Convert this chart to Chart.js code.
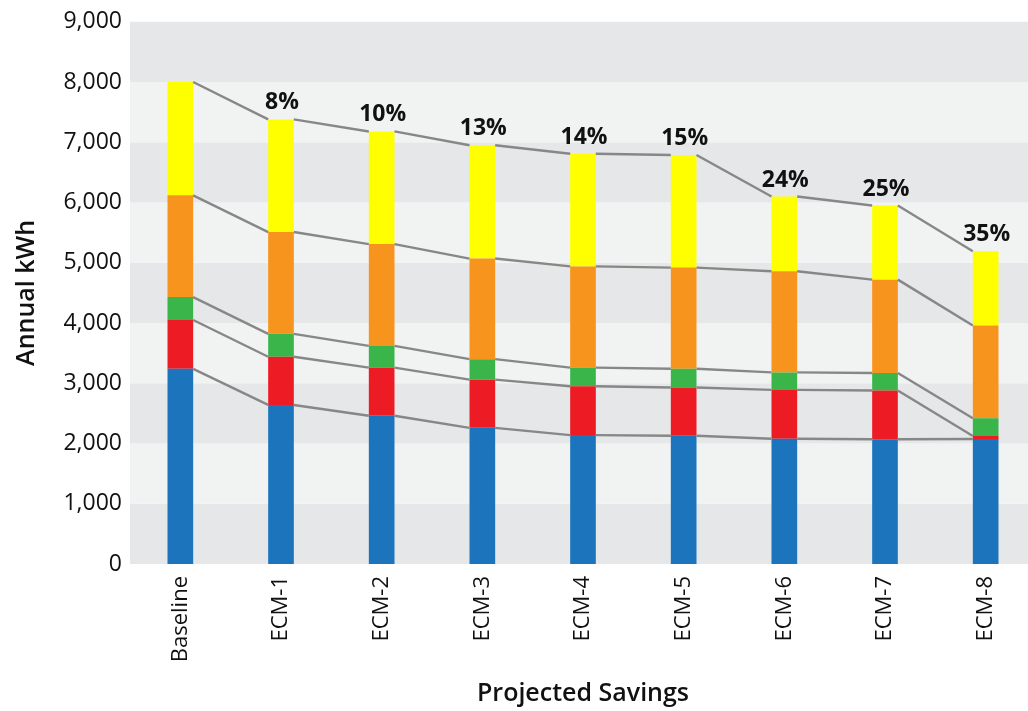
<!DOCTYPE html>
<html>
<head>
<meta charset="utf-8">
<title>Projected Savings</title>
<script src="https://cdn.jsdelivr.net/npm/chart.js@4.4.1/dist/chart.umd.min.js"></script>
<style>
  html, body { margin: 0; padding: 0; background: #ffffff; overflow: hidden; }
  #wrap { position: relative; width: 1036px; height: 711px; }
</style>
</head>
<body>
<div id="wrap"><canvas id="savingsChart"></canvas></div>
<script>
// categories and stacked segment values (kWh), bottom to top
const categories = ['Baseline', 'ECM-1', 'ECM-2', 'ECM-3', 'ECM-4', 'ECM-5', 'ECM-6', 'ECM-7', 'ECM-8'];
const blueValues   = [3240, 2640, 2460, 2260, 2140, 2130, 2080, 2070, 2075];
const redValues    = [810, 800, 800, 800, 810, 800, 810, 810, 50];
const greenValues  = [380, 380, 360, 340, 310, 310, 290, 290, 295];
const orangeValues = [1690, 1690, 1690, 1670, 1680, 1680, 1680, 1550, 1540];
const yellowValues = [1880, 1870, 1870, 1880, 1870, 1870, 1240, 1230, 1230];
const savingsLabels = ['', '8%', '10%', '13%', '14%', '15%', '24%', '25%', '35%'];
const yTicks = [0, 1000, 2000, 3000, 4000, 5000, 6000, 7000, 8000, 9000];

const FONT = "'Open Sans', 'DejaVu Sans', sans-serif";

/**
 * Alternating grey bands behind the plot
 */
const bandsPlugin = {
  id: 'bands',
  beforeDatasetsDraw(chart) {
    const { ctx, chartArea, scales: { y } } = chart;
    ctx.save();
    for (let i = 0; i < yTicks.length - 1; i++) {
      const top = y.getPixelForValue(yTicks[i + 1]);
      const bottom = y.getPixelForValue(yTicks[i]);
      ctx.fillStyle = i % 2 === 0 ? '#e6e7e8' : '#f1f2f2';
      ctx.fillRect(chartArea.left, top, chartArea.right - chartArea.left, bottom - top);
    }
    ctx.restore();
  }
};

/**
 * Grey connectors between segment tops, and savings labels
 */
const connectorPlugin = {
  id: 'connectors',
  afterDatasetsDraw(chart) {
    const { ctx } = chart;
    ctx.save();
    ctx.strokeStyle = '#878787';
    ctx.lineWidth = 2.4;
    chart.data.datasets.forEach((ds, di) => {
      const bars = chart.getDatasetMeta(di).data;
      for (let i = 0; i < bars.length - 1; i++) {
        const a = bars[i].getProps(['x', 'y', 'width'], true);
        const b = bars[i + 1].getProps(['x', 'y', 'width'], true);
        ctx.beginPath();
        ctx.moveTo(a.x + a.width / 2, a.y);
        ctx.lineTo(b.x - b.width / 2, b.y);
        ctx.stroke();
      }
    });

    // percentage labels above the top segment
    const topBars = chart.getDatasetMeta(chart.data.datasets.length - 1).data;
    ctx.fillStyle = '#111111';
    ctx.font = `bold 23px ${FONT}`;
    ctx.textAlign = 'center';
    ctx.textBaseline = 'alphabetic';
    topBars.forEach((bar, i) => {
      if (!savingsLabels[i]) return;
      const p = bar.getProps(['x', 'y'], true);
      ctx.fillText(savingsLabels[i], p.x + 1, p.y - 10);
    });
    ctx.restore();
  }
};

function makeSet(label, data, color) {
  return {
    label: label,
    data: data,
    backgroundColor: color,
    borderWidth: 0,
    barPercentage: 0.255,
    categoryPercentage: 1.0,
    stack: 'kwh'
  };
}

const ctx = document.getElementById('savingsChart').getContext('2d');
new Chart(ctx, {
  type: 'bar',
  data: {
    labels: categories,
    datasets: [
      makeSet('Blue', blueValues, '#1c75bc'),
      makeSet('Red', redValues, '#ed1c24'),
      makeSet('Green', greenValues, '#39b54a'),
      makeSet('Orange', orangeValues, '#f7941d'),
      makeSet('Yellow', yellowValues, '#ffff00')
    ]
  },
  options: {
    responsive: true,
    maintainAspectRatio: false,
    animation: false,
    layout: { padding: { top: 17, right: 0, bottom: 0, left: 0 } },
    plugins: {
      legend: { display: false },
      tooltip: { enabled: false }
    },
    scales: {
      x: {
        stacked: true,
        grid: { display: false, drawTicks: false },
        border: { display: false },
        ticks: {
          color: '#111111',
          font: { family: FONT, size: 22 },
          minRotation: 90,
          maxRotation: 90,
          padding: 12
        },
        title: {
          display: true,
          text: 'Projected Savings',
          color: '#111111',
          font: { family: FONT, size: 25, weight: '600' },
          padding: { top: 0, bottom: 2 }
        },
        afterFit(scale) { scale.height = 147; }
      },
      y: {
        stacked: true,
        min: 0,
        max: 9000,
        grid: { display: false, drawTicks: false },
        border: { display: false },
        afterBuildTicks(scale) {
          scale.ticks = yTicks.map(v => ({ value: v }));
        },
        ticks: {
          color: '#111111',
          font: { family: FONT, size: 23 },
          padding: 8,
          callback: v => v.toLocaleString('en-US')
        },
        title: {
          display: true,
          text: 'Annual kWh',
          color: '#111111',
          font: { family: FONT, size: 25, weight: '600' },
          padding: { top: 12, bottom: 0 }
        },
        afterFit(scale) { scale.width = 130; }
      }
    }
  },
  plugins: [bandsPlugin, connectorPlugin]
});
</script>
</body>
</html>
